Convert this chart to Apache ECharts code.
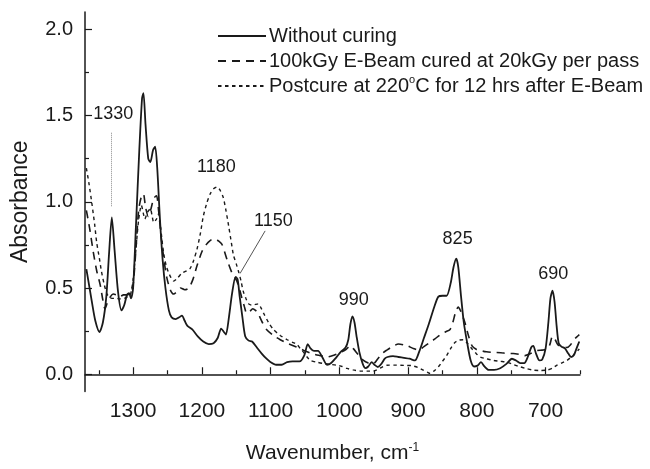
<!DOCTYPE html>
<html><head><meta charset="utf-8">
<script src="https://cdn.jsdelivr.net/npm/echarts@6/dist/echarts.min.js"></script>
<style>html,body{margin:0;padding:0;background:#fff}#c{width:650px;height:469px}</style>
</head><body><div id="c"></div>
<script>
var seriesNames = ['Without curing', '100kGy E-Beam cured at 20kGy per pass', 'Postcure at 220°C for 12 hrs after E-Beam'];
var xMajorTicks = [700, 800, 900, 1000, 1100, 1200, 1300];
var xMinorTicks = [650, 750, 850, 950, 1050, 1150, 1250, 1350];
var yMajorTicks = [0, 0.5, 1.0, 1.5, 2.0];
var yMinorTicks = [0.25, 0.75, 1.25, 1.75];

var wnSolid = [1368,1360,1355,1349,1344,1339,1335,1331,1327,1322,1317,1313,1309,1306,1303,1300,1296,1291,1287,1285,1282,1278,1275,1271,1268,1265,1261,1257,1253,1248,1244,1238,1233,1229,1225,1221,1214,1206,1198,1190,1183,1177,1172,1168,1165,1161,1156,1151,1148,1145,1141,1137,1132,1127,1120,1113,1106,1100,1092,1084,1076,1068,1058,1051,1046,1042,1037,1031,1025,1018,1012,1005,998,991,987,984,981,978,975,971,966,962,958,953,949,944,939,934,930,922,914,906,898,890,884,877,870,862,856,850,844,838,834,830,827,823,819,814,809,804,799,794,789,783,775,766,757,749,743,737,731,726,721,718,714,709,705,700,696,693,690,687,684,681,677,672,667,663,659,655,651];
var absSolid = [0.61,0.42,0.31,0.245,0.30,0.45,0.70,0.91,0.72,0.48,0.37,0.40,0.46,0.47,0.44,0.50,0.85,1.30,1.60,1.63,1.45,1.25,1.23,1.30,1.32,1.20,0.90,0.66,0.50,0.37,0.33,0.32,0.33,0.34,0.31,0.28,0.26,0.22,0.19,0.175,0.18,0.21,0.265,0.245,0.23,0.32,0.47,0.565,0.55,0.45,0.33,0.22,0.195,0.19,0.155,0.12,0.09,0.07,0.055,0.055,0.07,0.075,0.075,0.11,0.175,0.15,0.135,0.135,0.10,0.055,0.065,0.095,0.13,0.155,0.20,0.29,0.335,0.30,0.22,0.13,0.06,0.035,0.045,0.07,0.055,0.042,0.06,0.09,0.10,0.105,0.10,0.095,0.09,0.08,0.13,0.21,0.29,0.39,0.45,0.455,0.455,0.53,0.62,0.67,0.62,0.45,0.30,0.18,0.08,0.045,0.05,0.07,0.045,0.025,0.025,0.035,0.06,0.09,0.08,0.065,0.065,0.10,0.155,0.165,0.12,0.08,0.085,0.15,0.30,0.44,0.485,0.42,0.28,0.18,0.16,0.15,0.12,0.10,0.11,0.15,0.19];

var wnDashed = [1368,1363,1358,1353,1348,1344,1341,1337,1333,1329,1324,1319,1314,1309,1304,1300,1296,1292,1288,1285,1282,1278,1274,1270,1266,1263,1259,1255,1251,1246,1241,1236,1231,1225,1219,1213,1207,1200,1194,1188,1181,1175,1171,1167,1163,1157,1152,1149,1145,1142,1138,1135,1131,1126,1122,1118,1112,1106,1096,1086,1076,1067,1058,1050,1040,1030,1018,1008,999,990,984,980,972,965,958,951,944,938,931,923,914,906,901,893,885,877,868,861,853,846,839,835,831,827,824,820,817,812,807,801,795,786,776,765,755,747,738,730,722,713,705,698,694,690,686,682,676,669,664,659,655,651];
var absDashed = [0.95,0.84,0.71,0.60,0.52,0.43,0.38,0.42,0.45,0.465,0.46,0.45,0.46,0.46,0.47,0.52,0.72,0.95,1.03,1.045,0.97,0.915,0.96,1.02,1.035,0.95,0.79,0.66,0.56,0.49,0.465,0.48,0.50,0.49,0.50,0.55,0.63,0.71,0.75,0.775,0.785,0.77,0.755,0.71,0.66,0.595,0.56,0.54,0.49,0.445,0.39,0.355,0.36,0.38,0.37,0.35,0.30,0.26,0.225,0.20,0.18,0.165,0.15,0.135,0.12,0.11,0.10,0.11,0.125,0.145,0.165,0.15,0.11,0.08,0.065,0.06,0.09,0.12,0.14,0.16,0.175,0.17,0.165,0.15,0.14,0.16,0.185,0.205,0.23,0.245,0.26,0.30,0.36,0.39,0.37,0.33,0.295,0.22,0.165,0.145,0.137,0.13,0.127,0.125,0.12,0.12,0.115,0.108,0.12,0.137,0.14,0.146,0.17,0.22,0.20,0.17,0.16,0.155,0.17,0.20,0.215,0.23];

var wnDotted = [1368,1364,1360,1356,1353,1349,1346,1342,1338,1334,1331,1325,1319,1313,1308,1304,1300,1296,1292,1288,1285,1283,1279,1275,1272,1270,1266,1263,1260,1256,1252,1249,1245,1241,1236,1229,1222,1217,1212,1207,1202,1198,1193,1188,1183,1178,1174,1169,1165,1161,1157,1154,1150,1147,1143,1140,1136,1132,1127,1122,1118,1114,1110,1103,1096,1086,1076,1068,1062,1057,1052,1047,1042,1033,1023,1013,1004,996,989,980,970,960,950,941,931,921,911,902,895,886,878,872,868,862,856,850,844,838,832,826,820,814,807,801,795,786,776,766,756,746,737,728,718,708,698,690,684,677,669,660,651];
var absDotted = [1.195,1.10,0.99,0.87,0.764,0.67,0.595,0.52,0.465,0.445,0.44,0.44,0.437,0.44,0.45,0.46,0.55,0.72,0.895,0.98,0.93,0.90,0.94,0.96,0.91,0.88,0.90,0.93,0.85,0.71,0.63,0.595,0.56,0.54,0.555,0.586,0.60,0.614,0.66,0.726,0.82,0.914,0.99,1.045,1.075,1.086,1.07,1.026,0.95,0.858,0.76,0.69,0.64,0.60,0.54,0.483,0.44,0.408,0.40,0.405,0.408,0.385,0.352,0.30,0.26,0.225,0.20,0.185,0.174,0.15,0.127,0.10,0.08,0.07,0.062,0.057,0.052,0.045,0.034,0.025,0.019,0.018,0.019,0.035,0.052,0.053,0.052,0.051,0.05,0.04,0.024,0.012,0.005,0.02,0.043,0.075,0.108,0.15,0.184,0.198,0.2,0.18,0.146,0.12,0.10,0.09,0.08,0.075,0.07,0.055,0.043,0.033,0.024,0.022,0.024,0.035,0.052,0.065,0.08,0.11,0.146];

var peakLabels = [
  {name: '1330', coord: [1329, 1.51]},
  {name: '1180', coord: [1179, 1.20]},
  {name: '1150', coord: [1096, 0.89]},
  {name: '990', coord: [979, 0.43]},
  {name: '825', coord: [828, 0.785]},
  {name: '690', coord: [689, 0.58]}
];
var guideLines = [
  {from: [1332, 1.40], to: [1332, 0.97], type: 'dotted', color: '#8a8a8a'},
  {from: [1144.5, 0.584], to: [1108, 0.831], type: 'solid', color: '#555'}
];

function pairs(xs, ys) { return xs.map(function (x, i) { return [x, ys[i]]; }); }

var INK = '#1a1a1a';
var FONT = 'Liberation Sans, Arial, sans-serif';

var chart = echarts.init(document.getElementById('c'), null, {renderer: 'canvas'});
var baseX = {
  type: 'value', inverse: true, min: 650, max: 1370, gridIndex: 0, position: 'bottom', offset: 0,
  splitLine: {show: false}
};
var baseY = {
  type: 'value', min: -0.1, max: 2.1, gridIndex: 0, position: 'left', offset: 0,
  splitLine: {show: false}
};
chart.setOption({
  animation: false,
  backgroundColor: '#fff',
  textStyle: {fontFamily: FONT},
  grid: {left: 85, right: 70, top: 12, bottom: 66},
  legend: {
    orient: 'vertical', left: 217, top: 24, padding: 0, itemGap: 1,
    itemWidth: 48, itemHeight: 2,
    itemStyle: {opacity: 0},
    textStyle: {fontSize: 20, color: INK, fontFamily: FONT, lineHeight: 24, padding: [0, 0, 0, -2],
      rich: {t: {fontSize: 20, color: INK, fontFamily: FONT}, s: {fontSize: 11, color: INK, fontFamily: FONT, verticalAlign: 'top', padding: [0, 0, 8, 0]}}},
    formatter: function (n) {
      if (n.indexOf('°C') >= 0) { var p = n.split('°C'); return '{t|' + p[0] + '}{s|o}{t|C' + p[1] + '}'; }
      return n;
    },
    data: seriesNames
  },
  xAxis: [
    Object.assign({}, baseX, {
      name: '{t|Wavenumber, cm}{s|-1}', nameLocation: 'middle', nameGap: 50,
      nameTextStyle: {rich: {t: {fontSize: 21, color: INK, fontFamily: FONT}, s: {fontSize: 12, color: INK, fontFamily: FONT, verticalAlign: 'top', padding: [0, 0, 12, 0]}}},
      axisLine: {show: true, lineStyle: {color: INK, width: 1.5}},
      axisTick: {show: true, inside: true, length: 7, lineStyle: {color: INK, width: 1.2}, customValues: xMajorTicks},
      axisLabel: {show: true, fontSize: 21, color: INK, margin: 9, customValues: xMajorTicks,
        formatter: function (v) { return String(v); }}
    }),
    Object.assign({}, baseX, {
      axisLine: {show: false},
      axisTick: {show: true, inside: true, length: 4, lineStyle: {color: INK, width: 1.2}, customValues: xMinorTicks},
      axisLabel: {show: false}
    })
  ],
  yAxis: [
    Object.assign({}, baseY, {
      name: 'Absorbance', nameLocation: 'middle', nameGap: 53, nameRotate: 90,
      nameTextStyle: {fontSize: 23, color: INK, fontFamily: FONT},
      axisLine: {show: true, lineStyle: {color: INK, width: 1.5}},
      axisTick: {show: true, inside: true, length: 7, lineStyle: {color: INK, width: 1.2}, customValues: yMajorTicks},
      axisLabel: {show: true, fontSize: 20, color: INK, margin: 12, customValues: yMajorTicks,
        formatter: function (v) { return Number(v).toFixed(1); }}
    }),
    Object.assign({}, baseY, {
      axisLine: {show: false},
      axisTick: {show: true, inside: true, length: 4, lineStyle: {color: INK, width: 1.2}, customValues: yMinorTicks},
      axisLabel: {show: false}
    })
  ],
  series: [
    {
      name: seriesNames[0], type: 'line', xAxisIndex: 0, yAxisIndex: 0,
      data: pairs(wnSolid, absSolid), smooth: 0.25, symbol: 'none',
      lineStyle: {color: INK, width: 1.8, type: 'solid'}, itemStyle: {color: INK},
      z: 5,
      markPoint: {
        silent: true, symbol: 'circle', symbolSize: 0,
        label: {show: true, position: 'inside', formatter: '{b}', fontSize: 18, color: INK, fontFamily: FONT},
        data: peakLabels.map(function (p) { return {name: p.name, coord: p.coord}; })
      },
      markLine: {
        silent: true, symbol: 'none', label: {show: false},
        data: guideLines.map(function (g) {
          return [{coord: g.from, lineStyle: {type: g.type, color: g.color, width: 1}}, {coord: g.to}];
        })
      }
    },
    {
      name: seriesNames[1], type: 'line', xAxisIndex: 0, yAxisIndex: 0,
      data: pairs(wnDashed, absDashed), smooth: 0.25, symbol: 'none',
      lineStyle: {color: INK, width: 1.6, type: [8, 6]}, itemStyle: {color: INK}
    },
    {
      name: seriesNames[2], type: 'line', xAxisIndex: 0, yAxisIndex: 0,
      data: pairs(wnDotted, absDotted), smooth: 0.25, symbol: 'none',
      lineStyle: {color: INK, width: 1.4, type: [3.5, 3.5]}, itemStyle: {color: INK}
    }
  ]
});
</script>
</body></html>
